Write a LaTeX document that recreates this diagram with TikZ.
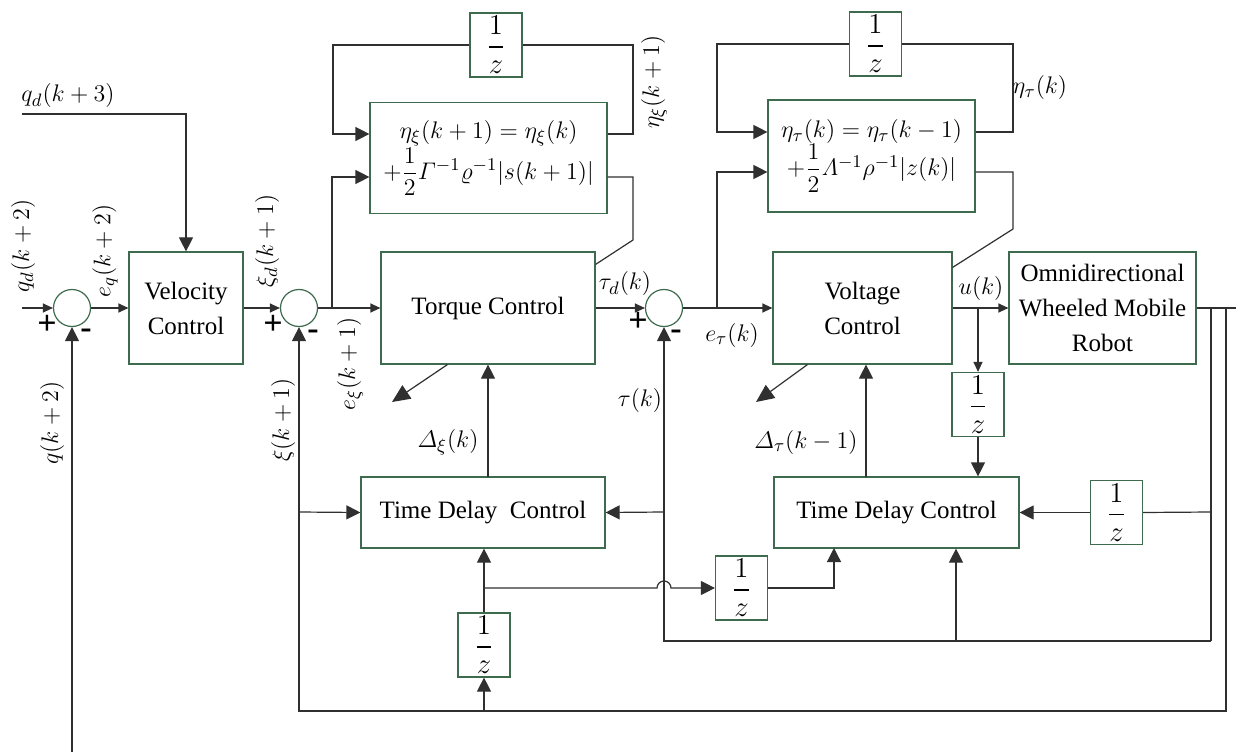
\documentclass[tikz,border=0pt]{standalone}
\usepackage{amsmath}
\usepackage[no-math]{fontspec}
\setmainfont{Liberation Serif}
\newfontfamily\tnr{Liberation Serif}
\usetikzlibrary{arrows.meta}
\definecolor{boxgreen}{HTML}{3E6B4E}
\definecolor{lineblack}{HTML}{303030}
\begin{document}
\begin{tikzpicture}[x=0.5pt,y=-0.5pt,
  font=\tnr\fontsize{12.5}{17.5}\selectfont,
  blk/.style={draw=boxgreen, line width=0.6pt, inner sep=0pt, align=center, fill=white},
  zbox/.style={blk, minimum width=26pt, minimum height=32pt, font=\tnr\fontsize{13.5}{16}\selectfont},
  sumc/.style={circle, draw=boxgreen, line width=0.6pt, minimum size=18.5pt, inner sep=0pt},
  ln/.style={draw=lineblack, line width=0.6pt},
  big/.style={-{Triangle[length=7pt,width=7pt]}},
  dia/.style={-{Triangle[length=9pt,width=8pt]}},
  sml/.style={-{Triangle[length=5pt,width=4.5pt]}},
  lbl/.style={inner sep=0pt, font=\tnr\fontsize{13.2}{16}\selectfont},
  rlbl/.style={lbl, rotate=90},
  sgn/.style={inner sep=0pt, font=\fontsize{17}{17}\selectfont\bfseries},
]
\useasboundingbox (0,0) rectangle (1236,754);

% blocks
\node[blk, minimum width=57pt, minimum height=56pt] (vel) at (186,308) {Velocity\\Control};
\node[blk, minimum width=107pt, minimum height=56pt] (tor) at (488,308) {Torque Control};
\node[blk, minimum width=89.5pt, minimum height=56pt] (vol) at (862.5,308) {Voltage\\Control};
\node[blk, minimum width=93.5pt, minimum height=56pt] (rob) at (1102.5,308) {Omnidirectional\\Wheeled Mobile\\Robot};
\node[blk, minimum width=118.5pt, minimum height=55.5pt, font=\tnr\fontsize{12.8}{19}\selectfont] (ex) at (488.5,158)
  {$\eta_\xi(k+1)=\eta_\xi(k)$\\$+\dfrac{1}{2}\varGamma^{-1}\varrho^{-1}|s(k+1)|$};
\node[blk, minimum width=103.5pt, minimum height=56pt, font=\tnr\fontsize{12.8}{19}\selectfont] (et) at (871.5,156)
  {$\eta_\tau(k)=\eta_\tau(k-1)$\\$+\dfrac{1}{2}\varLambda^{-1}\rho^{-1}|z(k)|$};
\node[blk, minimum width=122pt, minimum height=35.5pt] (tdc1) at (483,512.5) {Time Delay\ \ Control};
\node[blk, minimum width=122.5pt, minimum height=35.5pt] (tdc2) at (896.5,512.5) {Time Delay Control};
\node[zbox] (z1) at (496,45) {$\dfrac{1}{z}$};
\node[zbox] (z2) at (875.5,44) {$\dfrac{1}{z}$};
\node[zbox] (zb) at (484,645) {$\dfrac{1}{z}$};
\node[zbox] (zm) at (741.5,588) {$\dfrac{1}{z}$};
\node[zbox] (zr) at (1116.5,512.5) {$\dfrac{1}{z}$};
\node[zbox] (zu) at (978,404.5) {$\dfrac{1}{z}$};

% summing junctions
\node[sumc] (s1) at (72,308) {};
\node[sumc] (s2) at (299,308) {};
\node[sumc] (s3) at (664,308) {};

% coordinates
\coordinate (qd3) at (22,114);
\coordinate (qd2) at (22,308);
\coordinate (qb) at (72,752);
\coordinate (b1) at (332,308);
\coordinate (b1t) at (332,177);
\coordinate (c1) at (333,134);
\coordinate (c2) at (633,45);
\coordinate (c3) at (633,240);
\coordinate (b2) at (717,308);
\coordinate (c4) at (717,172);
\coordinate (c5) at (717,132);
\coordinate (c6) at (1013,44);
\coordinate (c7) at (1013,229);
\coordinate (rout) at (1236,308);
\coordinate (o1) at (1226,308);
\coordinate (o2) at (1226,711);
\coordinate (o3) at (299,711);
\coordinate (o4) at (299,512);
\coordinate (i1) at (1211,308);
\coordinate (t2) at (1211,641);
\coordinate (t1) at (664,641);
\coordinate (t3) at (664,512);
\coordinate (t4) at (956,641);
\coordinate (r1) at (1211,512);
\coordinate (j) at (484,588);
\coordinate (jl) at (657,588);
\coordinate (c8) at (834,548);
\coordinate (d1) at (488,477);
\coordinate (d2) at (866,477);
\coordinate (a1) at (392,402);
\coordinate (a2) at (756,402);

% connectors
\draw[ln,big] (qd3) -| (vel.north);
\draw[ln,sml] (qd2) -- (s1.west);
\draw[ln,big] (qb) -- (s1.south);
\draw[ln,sml] (s1.east) -- (vel.west);
\draw[ln,sml] (vel.east) -- (s2.west);
\draw[ln,sml] (s2.east) -- (tor.west);
\draw[ln,big] (b1) -- (b1t) -- (b1t -| ex.west);
\draw[ln,big] (z1.west) -| (c1) -- (c1 -| ex.west);
\draw[ln] (ex.east |- c1) -| (c2) -- (z1.east);
\draw[ln] (ex.east |- b1t) -| (c3) -- ([yshift=-6.5pt]tor.north east);
\draw[ln,sml] (tor.east) -- (s3.west);
\draw[ln,sml] (s3.east) -- (vol.west);
\draw[ln,big] (b2) -- (c4) -- (c4 -| et.west);
\draw[ln,big] (z2.west) -| (c5) -- (c5 -| et.west);
\draw[ln] (et.east |- c5) -| (c6) -- (z2.east);
\draw[ln] (et.east |- c4) -| (c7) -- ([yshift=-8pt]vol.north east);
\draw[ln,sml] (vol.east) -- (rob.west);
\draw[ln,sml] (zu.north |- vol.east) -- (zu.north);
\draw[ln,big] (zu.south) -- (zu.south |- tdc2.north);
\draw[ln] (rob.east) -- (rout);
\draw[ln,big] (o1) -- (o2) -- (o3) -- (s2.south);
\draw[ln,big] (o4) -- (tdc1.west);
\draw[ln] (i1) -- (t2);
\draw[ln,big] (t2) -- (t1) -- (s3.south);
\draw[ln,big] (t3) -- (tdc1.east);
\draw[ln,big] (t4) -- (t4 |- tdc2.south);
\draw[ln] (r1) -- (zr.east);
\draw[ln,big] (zr.west) -- (tdc2.east);
\draw[ln,big] (zb.south |- o3) -- (zb.south);
\draw[ln,big] (zb.north) -- (zb.north |- tdc1.south);
\draw[ln,big] (j) -- (jl) arc[start angle=180, end angle=0, radius=3.5pt] -- (zm.west);
\draw[ln,big] (zm.east) -| (c8);
\draw[ln,big] (d1) -- (d1 |- tor.south);
\draw[ln,big] (d2) -- (d2 |- vol.south);
\draw[ln,dia] ([xshift=33.5pt]tor.south west) -- (a1);
\draw[ln,dia] ([xshift=17.5pt]vol.south west) -- (a2);

% labels
\node[lbl] (lqd3) at (68,96) {$q_d(k+3)$};
\node[rlbl] (lqd2) at (23,246) {$q_d(k+2)$};
\node[rlbl] (leq) at (105,251) {$e_q(k+2)$};
\node[rlbl] (lq) at (52,423) {$q(k+2)$};
\node[rlbl] (lxid) at (267,241) {$\xi_d(k+1)$};
\node[rlbl] (lexi) at (350,364) {$e_\xi(k+1)$};
\node[rlbl] (lxi) at (283,420) {$\xi(k+1)$};
\node[rlbl] (letaxi) at (654,82) {$\eta_\xi(k+1)$};
\node[lbl] (letat) at (1040,88) {$\eta_\tau(k)$};
\node[lbl] (ltaud) at (625,284) {$\tau_d(k)$};
\node[lbl] (let) at (732,335) {$e_\tau(k)$};
\node[lbl] (ltau) at (640,400) {$\tau(k)$};
\node[lbl] (luk) at (981,288) {$u(k)$};
\node[lbl] (ldxi) at (448,442) {$\varDelta_\xi(k)$};
\node[lbl] (ldtau) at (806,442) {$\varDelta_\tau(k-1)$};

% signs
\node[sgn] (p1) at (47,325) {+};
\node[sgn] (m1) at (86,334) {-};
\node[sgn] (p2) at (273,325) {+};
\node[sgn] (m2) at (313,335) {-};
\node[sgn] (p3) at (638,322) {+};
\node[sgn] (m3) at (676,335) {-};
\end{tikzpicture}
\end{document}
